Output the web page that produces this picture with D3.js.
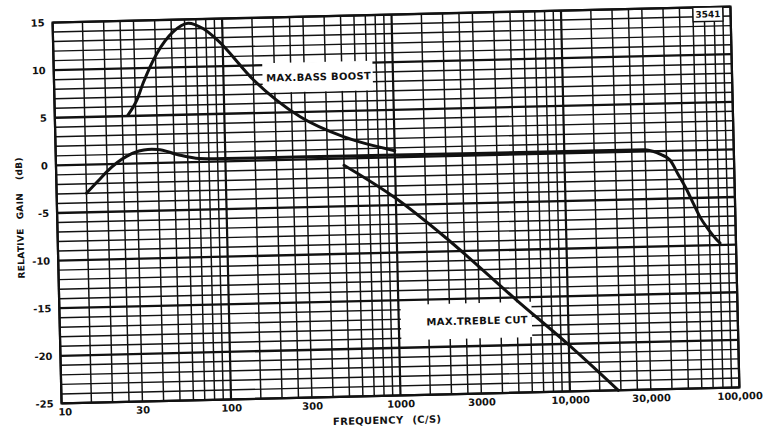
<!DOCTYPE html>
<html><head><meta charset="utf-8">
<script src="https://cdn.jsdelivr.net/npm/d3@7"></script>
<style>
body{margin:0;background:#fff}
svg{display:block}
text{font-family:"DejaVu Sans",sans-serif;font-weight:bold;fill:#111}
</style>
</head><body>
<svg id="chart" width="766" height="432"></svg>
<script>
// ---- data (frequency in c/s, gain in dB) ----
const bassFreq = [27, 30.7, 33.5, 40.8, 51, 63, 77, 92.7, 150, 280, 500, 1000];
const bassGain = [5.1, 6.7, 8.4, 11.5, 13.7, 14.6, 14.0, 12.8, 8.5, 4.5, 2.3, 0.7];

const flatFreq = [15, 17.5, 20, 23, 26, 31, 35, 40, 52, 70, 100, 300, 1000, 3000, 10000, 30000, 33300, 37000, 41900, 46800, 52200, 56800, 61800, 69100, 77300, 80500];
const flatGain = [-3.0, -1.8, -0.75, 0.15, 0.75, 1.3, 1.45, 1.42, 0.85, 0.38, 0.3, 0.28, 0.25, 0.22, 0.2, 0.18, 0.0, -0.35, -0.96, -2.55, -4.15, -5.6, -7.0, -8.35, -9.47, -9.8];

const trebleFreq = [500, 1000, 1900, 5000, 9700, 19300];
const trebleGain = [-0.7, -4.3, -8.4, -15.3, -19.9, -25.0];

const xTickValues = [10, 30, 100, 300, 1000, 3000, 10000, 30000, 100000];
const xTickLabels = ["10", "30", "100", "300", "1000", "3000", "10,000", "30,000", "100,000"];
const yTickValues = [-25, -20, -15, -10, -5, 0, 5, 10, 15];
const gridMultipliers = [1, 1.5, 2, 2.5, 3, 4, 5, 6, 7, 8, 9];

const seriesLabels = ["MAX.BASS BOOST", "MAX.TREBLE CUT"];
const figureNumber = "3541";

// ---- layout ----
const W = 766, H = 432;
const L = 57, R = 735, T = 14.5, B = 395.5;
const svg = d3.select("#chart");
svg.append("rect").attr("width", W).attr("height", H).attr("fill", "#fff");
const g = svg.append("g").attr("transform", "rotate(-1.35,396,205)");

const x = d3.scaleLog().domain([10, 100000]).range([L, R]);
const y = d3.scaleLinear().domain([-25, 15]).range([B, T]);

// ---- grid ----
const vLines = [];
for (let d = 1; d <= 4; d++) gridMultipliers.forEach(m => vLines.push(m * Math.pow(10, d)));
vLines.push(100000);
g.append("g").selectAll("line").data(vLines).join("line")
  .attr("x1", d => x(d)).attr("x2", d => x(d))
  .attr("y1", T).attr("y2", B)
  .attr("stroke", "#111")
  .attr("stroke-width", d => Math.abs(Math.log10(d) % 1) < 1e-9 ? 2.2 : 1.45);

const hLines = d3.range(-25, 16, 1);
g.append("g").selectAll("line").data(hLines).join("line")
  .attr("x1", L).attr("x2", R)
  .attr("y1", d => y(d)).attr("y2", d => y(d))
  .attr("stroke", "#111")
  .attr("stroke-width", d => d % 5 === 0 ? 2.3 : 1.45);

g.append("rect").attr("x", L).attr("y", T).attr("width", R - L).attr("height", B - T)
  .attr("fill", "none").attr("stroke", "#111").attr("stroke-width", 2.2);

// ---- label boxes (white patches on the grid) ----
function box(f0, f1, g0, g1) {
  return g.append("rect")
    .attr("x", x(f0)).attr("y", y(g0))
    .attr("width", x(f1) - x(f0)).attr("height", y(g1) - y(g0))
    .attr("fill", "#fff");
}
box(170, 760, 10.2, 7.1);
g.append("text").attr("x", (x(170) + x(760)) / 2 + 1).attr("y", y(8.65)).attr("dy", "0.36em")
  .attr("text-anchor", "middle").attr("font-size", 10).attr("letter-spacing", 0.3)
  .text(seriesLabels[0]);

box(1030, 6100, -15.5, -19.2);
g.append("text").attr("x", x(6100) - 4).attr("y", y(-17.35)).attr("dy", "0.36em")
  .attr("text-anchor", "end").attr("font-size", 10).attr("letter-spacing", 0.3)
  .text(seriesLabels[1]);

box(60000, 90000, 15, 13.5).attr("stroke", "#111").attr("stroke-width", 1.3);
g.append("text").attr("x", (x(60000) + x(90000)) / 2).attr("y", y(14.25)).attr("dy", "0.36em")
  .attr("text-anchor", "middle").attr("font-size", 9).text(figureNumber);

// ---- curves ----
const line = d3.line().x(d => x(d[0])).y(d => y(d[1])).curve(d3.curveMonotoneX);
const curves = [
  d3.zip(bassFreq, bassGain),
  d3.zip(flatFreq, flatGain),
  d3.zip(trebleFreq, trebleGain)
];
g.append("g").selectAll("path").data(curves).join("path")
  .attr("d", line)
  .attr("fill", "none").attr("stroke", "#111").attr("stroke-width", 3)
  .attr("stroke-linecap", "round").attr("stroke-linejoin", "round");

// ---- axes ----
const xAxis = d3.axisBottom(x).tickValues(xTickValues)
  .tickFormat((d, i) => xTickLabels[i]).tickSize(0).tickPadding(5);
const xa = g.append("g").attr("transform", `translate(0,${B})`).call(xAxis);
xa.select(".domain").remove();
xa.selectAll("text").attr("font-size", 10).attr("font-family", "DejaVu Sans").attr("font-weight", "bold").attr("fill", "#111")
  .attr("dx", (d, i) => i === 0 ? 3 : 0);

const yAxis = d3.axisLeft(y).tickValues(yTickValues).tickSize(0).tickPadding(8)
  .tickFormat(d => d < 0 ? "-" + Math.abs(d) : String(d));
const ya = g.append("g").attr("transform", `translate(${L},0)`).call(yAxis);
ya.select(".domain").remove();
ya.selectAll("text").attr("font-size", 10).attr("font-family", "DejaVu Sans").attr("font-weight", "bold").attr("fill", "#111");

// ---- titles ----
const xt = g.append("text").attr("x", 382).attr("y", 423.5).attr("text-anchor", "middle")
  .attr("font-size", 10).attr("letter-spacing", 0.3);
xt.append("tspan").text("FREQUENCY");
xt.append("tspan").attr("dx", 9).text("(C/S)");

const yt = g.append("text").attr("transform", "translate(23,209) rotate(-90)")
  .attr("text-anchor", "middle").attr("font-size", 9).attr("letter-spacing", 0.3);
yt.append("tspan").text("RELATIVE");
yt.append("tspan").attr("dx", 9).text("GAIN");
yt.append("tspan").attr("dx", 13).text("(dB)");
</script>
</body></html>
